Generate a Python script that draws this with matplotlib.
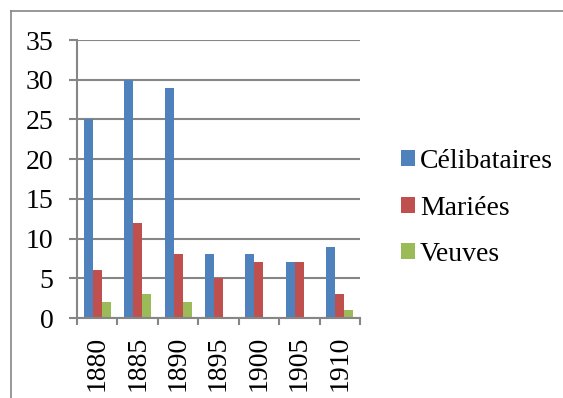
import numpy as np
import matplotlib.pyplot as plt
from matplotlib.lines import Line2D

plt.rcParams['font.family'] = ['Liberation Serif', 'DejaVu Serif']

years = ['1880', '1885', '1890', '1895', '1900', '1905', '1910']
celibataires = [25, 30, 29, 8, 8, 7, 9]
mariees = [6, 12, 8, 5, 7, 7, 3]
veuves = [2, 3, 2, 0, 0, 0, 1]

series = [('Célibataires', celibataires, '#4F81BD'),
          ('Mariées', mariees, '#C0504D'),
          ('Veuves', veuves, '#9BBB59')]

W, H = 563, 398
fig = plt.figure(figsize=(W / 100, H / 100), dpi=100)
ax = fig.add_axes([77 / W, 1 - 318 / H, (360 - 77) / W, (318 - 40) / H])

grey = '#868686'
x = np.arange(len(years))
bw = 1 / 4.5
for k, (name, vals, col) in enumerate(series):
    ax.bar(x + (k - 1) * bw, vals, bw, color=col, label=name, zorder=3)

ax.set_xlim(-0.5, len(years) - 0.5)
ax.set_ylim(0, 35)
ax.set_yticks(range(0, 36, 5))
ax.yaxis.grid(True, color=grey, linewidth=1.5, zorder=0)
ax.set_axisbelow(True)

for s in ['top', 'right']:
    ax.spines[s].set_visible(False)
for s in ['left', 'bottom']:
    ax.spines[s].set_color(grey)
    ax.spines[s].set_linewidth(1.5)
    ax.spines[s].set_zorder(4)

ax.tick_params(axis='y', length=5.8, width=1.5, color=grey, pad=11, labelsize=20)
ax.set_xticks(x)
ax.set_xticklabels(years, rotation=90)
ax.set_xticks(np.arange(-0.5, len(years)), minor=True)
ax.tick_params(axis='x', which='major', length=0, pad=13, labelsize=20)
ax.tick_params(axis='x', which='minor', length=5, width=1.5, color=grey)

fig.legend(loc='center left', bbox_to_anchor=(401 / W, 1 - 208 / H),
           frameon=False, fontsize=20, handlelength=0.5, handleheight=0.5,
           handletextpad=0.18, labelspacing=0.78, borderpad=0, borderaxespad=0)

# frame around the chart, open on the right and bottom
fig.add_artist(Line2D([10.5 / W, 1], [1 - 10.5 / H, 1 - 10.5 / H], color=grey, lw=1.2))
fig.add_artist(Line2D([10.5 / W, 10.5 / W], [0, 1 - 10.5 / H], color=grey, lw=1.2))

fig.savefig('out.png', dpi=100)
